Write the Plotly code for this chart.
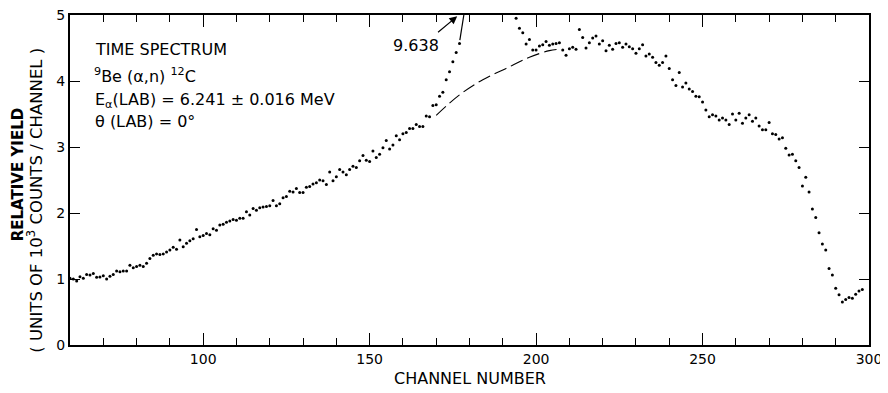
import plotly.graph_objects as go

# ---- data ----
channels = list(range(60, 299))

yield_60_108 = [1.01, 1.00, 0.97, 1.035, 1.01, 1.07, 1.06, 1.085, 1.025, 1.03,
                1.05, 1.00, 1.04, 1.07, 1.12, 1.11, 1.12, 1.12, 1.21, 1.17,
                1.19, 1.21, 1.19, 1.24, 1.31, 1.36, 1.38, 1.37, 1.38, 1.41,
                1.44, 1.48, 1.45, 1.59, 1.49, 1.54, 1.58, 1.61, 1.75, 1.64,
                1.66, 1.69, 1.67, 1.76, 1.74, 1.82, 1.83, 1.86, 1.88]
yield_109_156 = [1.90, 1.89, 1.92, 1.92, 2.02, 1.97, 2.07, 2.04, 2.08, 2.09,
                 2.10, 2.11, 2.19, 2.11, 2.14, 2.23, 2.25, 2.33, 2.32, 2.37,
                 2.31, 2.31, 2.39, 2.40, 2.44, 2.46, 2.50, 2.49, 2.43, 2.62,
                 2.49, 2.55, 2.66, 2.62, 2.58, 2.66, 2.71, 2.69, 2.79, 2.87,
                 2.80, 2.78, 2.94, 2.84, 2.89, 2.99, 3.10, 2.97]
yield_157_177 = [3.03, 3.17, 3.11, 3.20, 3.22, 3.28, 3.28, 3.34, 3.31, 3.31,
                 3.47, 3.46, 3.63, 3.64, 3.77, 3.83, 4.02, 4.14, 4.29, 4.43, 4.57]
yield_178_193 = [None] * 16  # off scale (peak above 5)
yield_194_204 = [4.95, 4.80, 4.73, 4.56, 4.63, 4.47, 4.47, 4.53, 4.55, 4.60, 4.54]
yield_205_252 = [4.56, 4.57, 4.58, 4.47, 4.39, 4.49, 4.51, 4.48, 4.78, 4.66,
                 4.50, 4.58, 4.65, 4.68, 4.56, 4.61, 4.46, 4.54, 4.48, 4.57,
                 4.58, 4.51, 4.56, 4.52, 4.49, 4.42, 4.49, 4.55, 4.38, 4.41,
                 4.36, 4.28, 4.24, 4.28, 4.38, 4.19, 4.02, 3.93, 4.13, 3.91,
                 3.97, 3.88, 3.84, 3.77, 3.76, 3.68, 3.56, 3.46]
yield_253_298 = [3.49, 3.47, 3.41, 3.44, 3.41, 3.34, 3.50, 3.41, 3.51, 3.36,
                 3.44, 3.49, 3.39, 3.44, 3.32, 3.26, 3.26, 3.37, 3.20, 3.19,
                 3.12, 3.14, 2.98, 2.88, 2.89, 2.79, 2.69, 2.41, 2.54, 2.32,
                 2.06, 1.93, 1.70, 1.53, 1.44, 1.16, 1.06, 0.86, 0.76, 0.65,
                 0.69, 0.72, 0.71, 0.77, 0.82, 0.84]

relative_yield = (yield_60_108 + yield_109_156 + yield_157_177 + yield_178_193
                  + yield_194_204 + yield_205_252 + yield_253_298)

# background (dashed) curve under the 9.638 peak
bg_channels = [170, 177, 184, 191, 198, 204, 207]
bg_yield = [3.48, 3.79, 4.02, 4.19, 4.36, 4.46, 4.48]

FONT = "DejaVu Sans"

fig = go.Figure()
fig.add_trace(go.Scatter(
    x=channels, y=relative_yield, mode="markers",
    marker=dict(color="black", size=3), showlegend=False))
fig.add_trace(go.Scatter(
    x=bg_channels, y=bg_yield, mode="lines",
    line=dict(color="black", width=1.1, dash="13px,5px", shape="spline"),
    showlegend=False))
# invisible trace so the mirrored (top/right) axes are drawn
fig.add_trace(go.Scatter(x=[None], y=[None], xaxis="x2", yaxis="y2",
                         showlegend=False, hoverinfo="skip"))

tick_common = dict(showgrid=False, zeroline=False, showline=True,
                   linecolor="black", linewidth=2, automargin=False,
                   ticks="inside", tickcolor="black", tickwidth=1.3,
                   ticklabeloverflow="allow",
                   tickfont=dict(family=FONT, size=14, color="black"))
x_ticks = dict(range=[60, 300], tick0=0, dtick=50, ticklen=12,
               minor=dict(ticks="inside", ticklen=7, dtick=10, tick0=0,
                          tickcolor="black", tickwidth=1.3))
y_ticks = dict(range=[0, 5], tick0=0, dtick=1, ticklen=10)

# the page body adds an 8px offset; the figure size/margins compensate for it
fig.update_layout(
    template="none",
    width=880, height=385,
    margin=dict(l=62, r=19, t=7, b=48),
    paper_bgcolor="white", plot_bgcolor="white",
    font=dict(family=FONT, color="black"),
    xaxis=dict(**tick_common, **x_ticks),
    yaxis=dict(**tick_common, **y_ticks),
    xaxis2=dict(**tick_common, **x_ticks, overlaying="x", side="top",
                showticklabels=False),
    yaxis2=dict(**tick_common, **y_ticks, overlaying="y", side="right",
                showticklabels=False),
)

annotations = [
    dict(text="CHANNEL NUMBER", xref="paper", yref="paper", x=0.5, y=-0.136,
         showarrow=False, font=dict(family=FONT, size=16, color="black")),
    dict(text="<b>RELATIVE YIELD</b>", xref="paper", yref="paper", x=-0.064, y=0.517,
         textangle=-90, showarrow=False, xanchor="center", yanchor="middle",
         font=dict(family=FONT, size=15, color="black")),
    dict(text="( UNITS OF 10<sup>3</sup> COUNTS / CHANNEL )", xref="paper", yref="paper",
         x=-0.044, y=0.44, textangle=-90, showarrow=False,
         xanchor="center", yanchor="middle", font=dict(family=FONT, size=16.5, color="black")),
    dict(text="TIME SPECTRUM", xref="paper", yref="paper", x=0.029, y=0.894,
         xanchor="left", yanchor="middle", showarrow=False,
         font=dict(family=FONT, size=16, color="black")),
    dict(text="<sup>9</sup>Be (α,n) <sup>12</sup>C", xref="paper", yref="paper", x=0.027, y=0.818,
         xanchor="left", yanchor="middle", showarrow=False,
         font=dict(family=FONT, size=16, color="black")),
    dict(text="E<sub>α</sub>(LAB) = 6.241 ± 0.016 MeV", xref="paper", yref="paper", x=0.029, y=0.742,
         xanchor="left", yanchor="middle", showarrow=False,
         font=dict(family=FONT, size=16, color="black")),
    dict(text="θ (LAB) = 0°", xref="paper", yref="paper", x=0.029, y=0.676,
         xanchor="left", yanchor="middle", showarrow=False,
         font=dict(family=FONT, size=16, color="black")),
    dict(text="9.638", xref="x", yref="y", x=163.9, y=4.54, showarrow=False,
         font=dict(family=FONT, size=16, color="black")),
    dict(text="", xref="x", yref="y", x=176.3, y=4.98, axref="x", ayref="y",
         ax=170.1, ay=4.72, showarrow=True, arrowhead=2, arrowsize=1.3,
         arrowwidth=1.2, arrowcolor="black"),
]

fig.update_layout(
    annotations=annotations,
    shapes=[dict(type="line", xref="x", yref="y", x0=178.3, y0=5.0, x1=177.1, y1=4.62,
                 line=dict(color="black", width=1.2))],
)

fig.write_html("out.html")
